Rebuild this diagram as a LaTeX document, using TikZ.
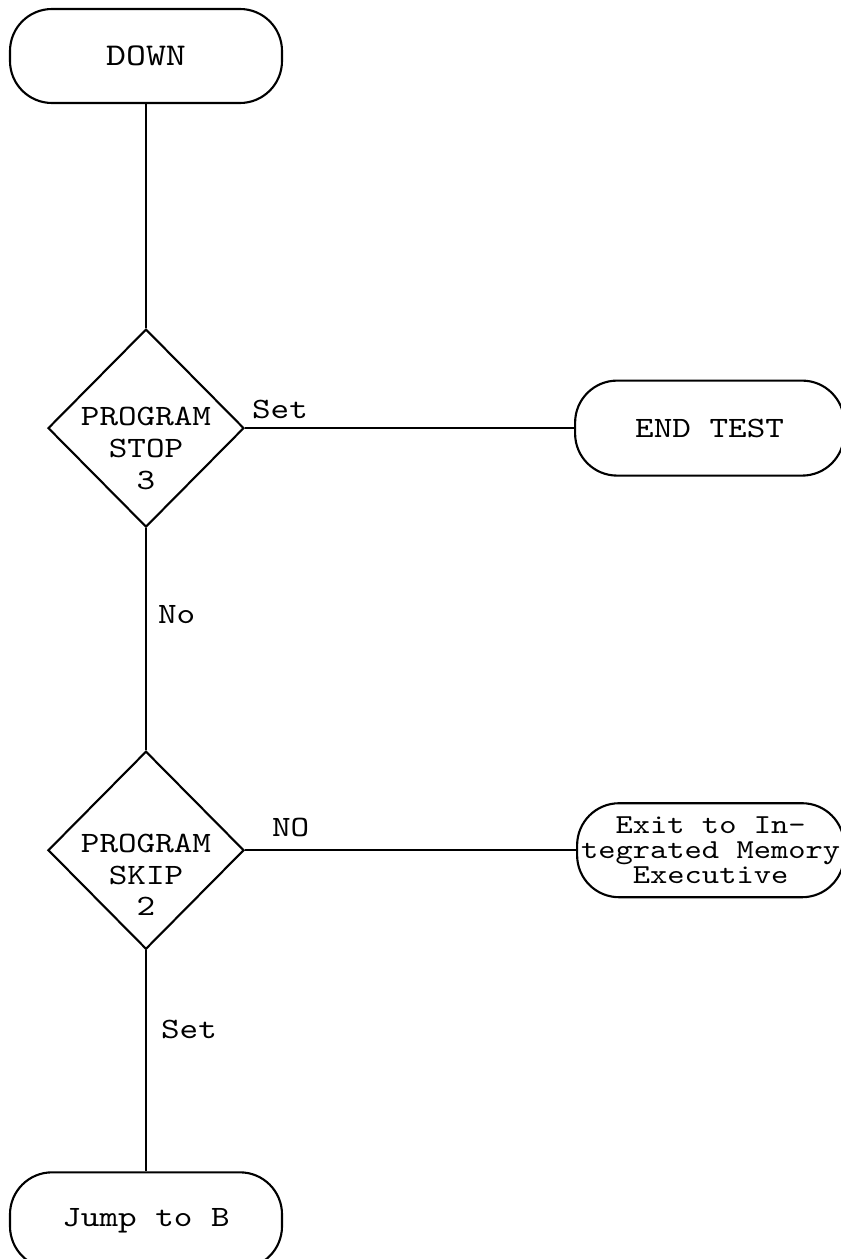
\documentclass[tikz,border=0pt]{standalone}
\usepackage{fontspec}
\setmonofont{lmmono10-regular.otf}[FakeStretch=1.2]
\usepackage{tikz}
\usetikzlibrary{positioning,shapes.geometric}
\newcommand{\tightlines}{\lineskiplimit=-20pt\relax}

\begin{document}
\begin{tikzpicture}[
  node distance=2cm,
  terminal/.style={rectangle, draw, line width=1.5pt, rounded corners=1.05cm, minimum width=6.8cm, minimum height=2.35cm, inner xsep=0pt, align=center, font=\ttfamily\fontsize{21}{16}\selectfont\tightlines},
  decision/.style={diamond, draw, line width=1.5pt, minimum width=4.9cm, minimum height=4.95cm, inner sep=0pt},
  inside/.style={anchor=north, inner sep=0pt, align=center, font=\ttfamily\fontsize{21}{22.7}\selectfont},
  tag/.style={inner sep=0pt, font=\ttfamily\fontsize{21}{22}\selectfont},
  line/.style={line width=1.5pt},
]
  \useasboundingbox (0,0) rectangle (21,-31.475);

  \node[terminal, font=\ttfamily\fontsize{22.5}{22}\selectfont] (down) at (3.65,-1.4) {DOWN};
  \node[decision, below=5.6cm of down] (stop3) {};
  \node[inside] (stop3text) at ([yshift=0.52cm]stop3.center) {PROGRAM\\STOP\\3};
  \node[decision, below=5.55cm of stop3] (skip2) {};
  \node[inside] (skip2text) at ([yshift=0.42cm]skip2.center) {PROGRAM\\SKIP\\2};
  \node[terminal, minimum width=6.725cm, minimum height=2.375cm, right=8.225cm of stop3] (endtest) {END TEST};
  \node[terminal, minimum width=6.675cm, minimum height=2.35cm, font=\ttfamily\fontsize{19.5}{17.5}\selectfont\tightlines, right=8.275cm of skip2] (exit) {Exit to In-\\tegrated Memory\\Executive};
  \node[terminal, minimum height=2.4cm, below=5.525cm of skip2] (jump) {Jump to B};

  \draw[line] (down) -- (stop3);
  \draw[line] (stop3) -- node[tag, pos=0, above right=0.2cm and 0.15cm] (set1) {Set} (endtest);
  \draw[line] (stop3) -- node[tag, pos=0.39, right=0.275cm] (no1) {No} (skip2);
  \draw[line] (skip2) -- node[tag, pos=0, above right=0.3cm and 0.65cm] (no2) {NO} (exit);
  \draw[line] (skip2) -- node[tag, pos=0.36, right=0.35cm] (set2) {Set} (jump);
\end{tikzpicture}
\end{document}
